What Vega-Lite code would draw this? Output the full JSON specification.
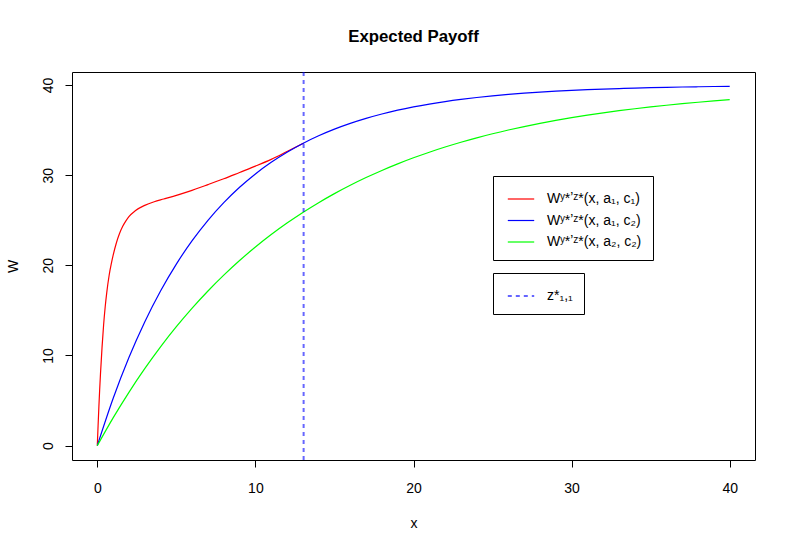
{
  "$schema": "https://vega.github.io/schema/vega-lite/v6.json",
  "width": 683,
  "height": 388,
  "autosize": {"type": "none"},
  "padding": {"left": 72, "top": 72, "right": 38, "bottom": 91},
  "background": "white",
  "title": {"text": "Expected Payoff", "fontSize": 16.8, "fontWeight": "bold", "anchor": "middle", "offset": 25, "font": "Liberation Sans", "color": "black"},
  "config": {
    "font": "Liberation Sans",
    "view": {"stroke": "black", "strokeWidth": 1},
    "axis": {"grid": false, "domain": false, "tickColor": "black", "tickSize": 7, "tickWidth": 1, "labelColor": "black", "labelFontSize": 14, "labelFont": "Liberation Sans", "titleFont": "Liberation Sans", "titleFontSize": 14, "titleFontWeight": "normal", "titleColor": "black"},
    "legend": {"strokeColor": "black", "fillColor": "white", "padding": 11, "labelFontSize": 14, "labelFont": "Liberation Sans", "labelColor": "black", "symbolType": "M-1.2,0H1.2", "symbolSize": 484, "symbolStrokeWidth": 1.2, "symbolOffset": 5, "labelOffset": 14, "rowPadding": 2.5, "labelLimit": 300}
  },
  "datasets": {
    "curves": [
      {"s": "a1c1", "x": 0, "W": 0},
      {"s": "a1c1", "x": 0.05, "W": 2.2},
      {"s": "a1c1", "x": 0.1, "W": 4.3},
      {"s": "a1c1", "x": 0.15, "W": 6.2},
      {"s": "a1c1", "x": 0.2, "W": 7.9},
      {"s": "a1c1", "x": 0.3, "W": 10.9},
      {"s": "a1c1", "x": 0.4, "W": 13.4},
      {"s": "a1c1", "x": 0.5, "W": 15.4},
      {"s": "a1c1", "x": 0.6, "W": 17.0},
      {"s": "a1c1", "x": 0.75, "W": 18.9},
      {"s": "a1c1", "x": 0.9, "W": 20.3},
      {"s": "a1c1", "x": 1.0, "W": 21.1},
      {"s": "a1c1", "x": 1.2, "W": 22.45},
      {"s": "a1c1", "x": 1.4, "W": 23.5},
      {"s": "a1c1", "x": 1.6, "W": 24.3},
      {"s": "a1c1", "x": 1.8, "W": 24.9},
      {"s": "a1c1", "x": 2.0, "W": 25.4},
      {"s": "a1c1", "x": 2.4, "W": 26.05},
      {"s": "a1c1", "x": 3.0, "W": 26.65},
      {"s": "a1c1", "x": 3.6, "W": 27.05},
      {"s": "a1c1", "x": 4.2, "W": 27.35},
      {"s": "a1c1", "x": 4.8, "W": 27.65},
      {"s": "a1c1", "x": 5.8, "W": 28.2},
      {"s": "a1c1", "x": 7.0, "W": 28.95},
      {"s": "a1c1", "x": 8.0, "W": 29.6},
      {"s": "a1c1", "x": 9.0, "W": 30.3},
      {"s": "a1c1", "x": 10.0, "W": 31.0},
      {"s": "a1c1", "x": 11.0, "W": 31.75},
      {"s": "a1c1", "x": 12.0, "W": 32.62},
      {"s": "a1c1", "x": 13.05, "W": 33.56},
      {"s": "a1c2", "x": 0, "W": 0},
      {"s": "a1c2", "x": 1, "W": 5.226},
      {"s": "a1c2", "x": 2, "W": 9.769},
      {"s": "a1c2", "x": 3, "W": 13.718},
      {"s": "a1c2", "x": 4, "W": 17.152},
      {"s": "a1c2", "x": 5, "W": 20.137},
      {"s": "a1c2", "x": 6, "W": 22.732},
      {"s": "a1c2", "x": 7, "W": 24.988},
      {"s": "a1c2", "x": 8, "W": 26.949},
      {"s": "a1c2", "x": 9, "W": 28.654},
      {"s": "a1c2", "x": 10, "W": 30.136},
      {"s": "a1c2", "x": 11, "W": 31.425},
      {"s": "a1c2", "x": 12, "W": 32.545},
      {"s": "a1c2", "x": 13, "W": 33.519},
      {"s": "a1c2", "x": 14, "W": 34.366},
      {"s": "a1c2", "x": 15, "W": 35.102},
      {"s": "a1c2", "x": 16, "W": 35.742},
      {"s": "a1c2", "x": 17, "W": 36.298},
      {"s": "a1c2", "x": 18, "W": 36.782},
      {"s": "a1c2", "x": 19, "W": 37.202},
      {"s": "a1c2", "x": 20, "W": 37.568},
      {"s": "a1c2", "x": 21, "W": 37.885},
      {"s": "a1c2", "x": 22, "W": 38.162},
      {"s": "a1c2", "x": 23, "W": 38.402},
      {"s": "a1c2", "x": 24, "W": 38.61},
      {"s": "a1c2", "x": 25, "W": 38.792},
      {"s": "a1c2", "x": 26, "W": 38.95},
      {"s": "a1c2", "x": 27, "W": 39.087},
      {"s": "a1c2", "x": 28, "W": 39.206},
      {"s": "a1c2", "x": 29, "W": 39.31},
      {"s": "a1c2", "x": 30, "W": 39.4},
      {"s": "a1c2", "x": 31, "W": 39.478},
      {"s": "a1c2", "x": 32, "W": 39.547},
      {"s": "a1c2", "x": 33, "W": 39.606},
      {"s": "a1c2", "x": 34, "W": 39.657},
      {"s": "a1c2", "x": 35, "W": 39.702},
      {"s": "a1c2", "x": 36, "W": 39.741},
      {"s": "a1c2", "x": 37, "W": 39.775},
      {"s": "a1c2", "x": 38, "W": 39.804},
      {"s": "a1c2", "x": 39, "W": 39.83},
      {"s": "a1c2", "x": 40, "W": 39.852},
      {"s": "a2c2", "x": 0, "W": 0},
      {"s": "a2c2", "x": 1, "W": 3.075},
      {"s": "a2c2", "x": 2, "W": 5.914},
      {"s": "a2c2", "x": 3, "W": 8.535},
      {"s": "a2c2", "x": 4, "W": 10.954},
      {"s": "a2c2", "x": 5, "W": 13.187},
      {"s": "a2c2", "x": 6, "W": 15.249},
      {"s": "a2c2", "x": 7, "W": 17.152},
      {"s": "a2c2", "x": 8, "W": 18.908},
      {"s": "a2c2", "x": 9, "W": 20.53},
      {"s": "a2c2", "x": 10, "W": 22.027},
      {"s": "a2c2", "x": 11, "W": 23.409},
      {"s": "a2c2", "x": 12, "W": 24.684},
      {"s": "a2c2", "x": 13, "W": 25.862},
      {"s": "a2c2", "x": 14, "W": 26.949},
      {"s": "a2c2", "x": 15, "W": 27.952},
      {"s": "a2c2", "x": 16, "W": 28.878},
      {"s": "a2c2", "x": 17, "W": 29.734},
      {"s": "a2c2", "x": 18, "W": 30.523},
      {"s": "a2c2", "x": 19, "W": 31.252},
      {"s": "a2c2", "x": 20, "W": 31.924},
      {"s": "a2c2", "x": 21, "W": 32.545},
      {"s": "a2c2", "x": 22, "W": 33.118},
      {"s": "a2c2", "x": 23, "W": 33.647},
      {"s": "a2c2", "x": 24, "W": 34.136},
      {"s": "a2c2", "x": 25, "W": 34.587},
      {"s": "a2c2", "x": 26, "W": 35.003},
      {"s": "a2c2", "x": 27, "W": 35.387},
      {"s": "a2c2", "x": 28, "W": 35.742},
      {"s": "a2c2", "x": 29, "W": 36.069},
      {"s": "a2c2", "x": 30, "W": 36.371},
      {"s": "a2c2", "x": 31, "W": 36.65},
      {"s": "a2c2", "x": 32, "W": 36.908},
      {"s": "a2c2", "x": 33, "W": 37.146},
      {"s": "a2c2", "x": 34, "W": 37.365},
      {"s": "a2c2", "x": 35, "W": 37.568},
      {"s": "a2c2", "x": 36, "W": 37.755},
      {"s": "a2c2", "x": 37, "W": 37.927},
      {"s": "a2c2", "x": 38, "W": 38.087},
      {"s": "a2c2", "x": 39, "W": 38.234},
      {"s": "a2c2", "x": 40, "W": 38.37}
    ],
    "marker": [
      {"z": 13.05, "k": "z11"}
    ]
  },
  "layer": [
    {
      "data": {"name": "curves"},
      "mark": {"type": "line", "strokeWidth": 1.2, "interpolate": "monotone"},
      "encoding": {
        "x": {"field": "x", "type": "quantitative", "scale": {"domain": [-1.6, 41.6], "nice": false, "zero": false}, "axis": {"values": [0, 10, 20, 30, 40], "title": "x", "labelPadding": 14, "titlePadding": 21}},
        "y": {"field": "W", "type": "quantitative", "scale": {"domain": [-1.594, 41.44], "nice": false, "zero": false}, "axis": {"values": [0, 10, 20, 30, 40], "title": "W", "labelAngle": 270, "labelAlign": "center", "labelBaseline": "bottom", "labelPadding": 10, "titlePadding": 21}},
        "color": {"field": "s", "type": "nominal", "scale": {"domain": ["a1c1", "a1c2", "a2c2"], "range": ["#ff0000", "#0000ff", "#00ff00"]},
          "legend": {"title": null, "orient": "none", "legendX": 421, "legendY": 104,
            "labelExpr": "datum.value == 'a1c1' ? 'Wʸ*ʼᶻ*(x, a₁, c₁)' : datum.value == 'a1c2' ? 'Wʸ*ʼᶻ*(x, a₁, c₂)' : 'Wʸ*ʼᶻ*(x, a₂, c₂)'"}}
      }
    },
    {
      "data": {"name": "marker"},
      "mark": {"type": "rule", "stroke": "#0000ff", "strokeOpacity": 0.6, "strokeWidth": 2},
      "encoding": {
        "x": {"field": "z", "type": "quantitative"},
        "strokeDash": {"field": "k", "type": "nominal", "scale": {"domain": ["z11"], "range": [[4, 4]]},
          "legend": {"title": null, "orient": "none", "legendX": 421, "legendY": 201, "symbolStrokeColor": "#0000ff", "symbolOpacity": 0.6, "symbolStrokeWidth": 2,
            "labelExpr": "'z*₁,₁'"}}
      }
    }
  ]
}
